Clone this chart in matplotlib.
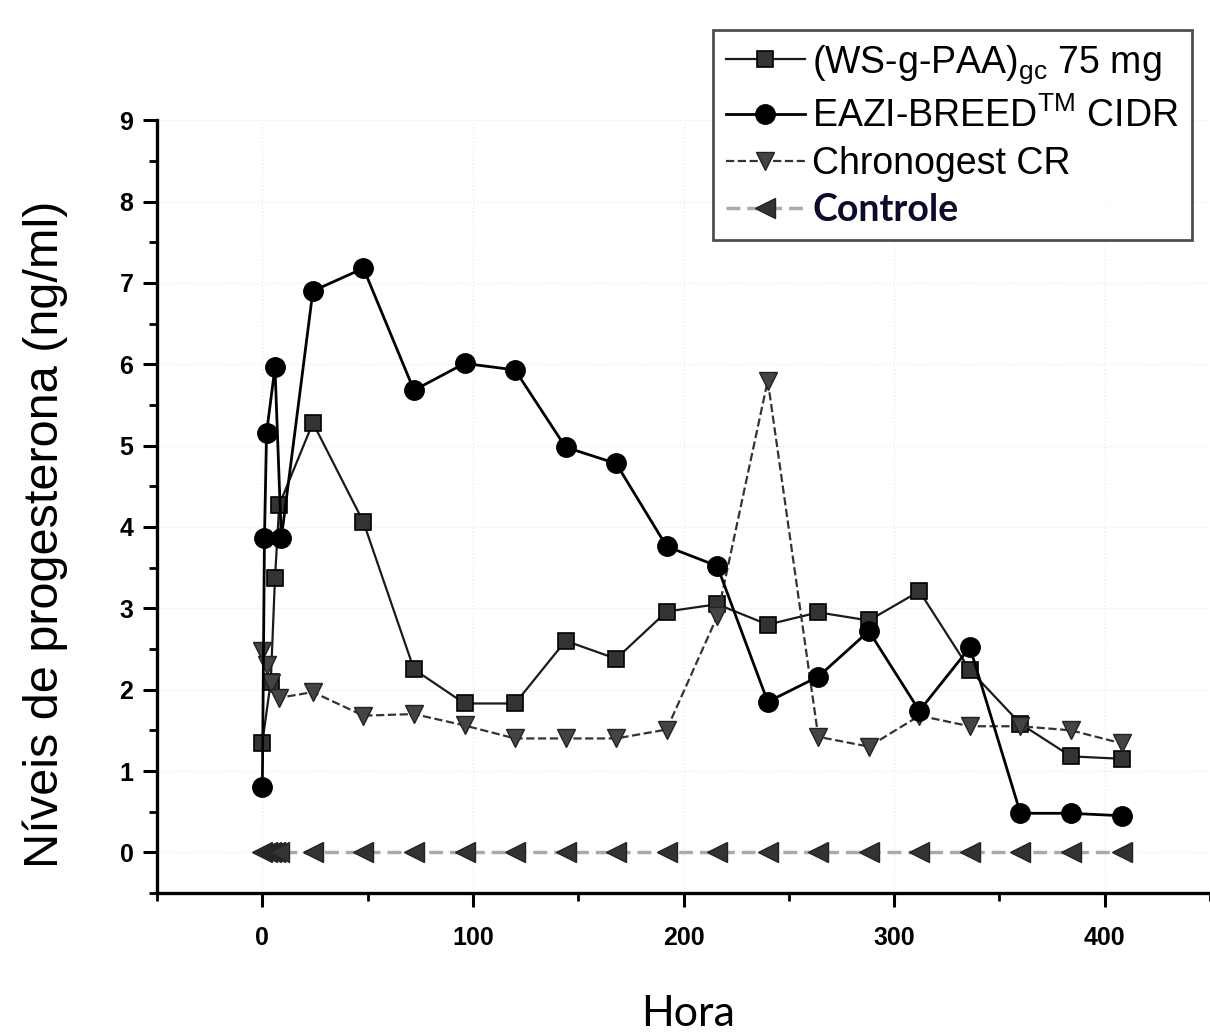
import numpy as np
import matplotlib.pyplot as plt
from matplotlib.ticker import MultipleLocator

# data
sq_x = [0, 4, 6, 8, 24, 48, 72, 96, 120, 144, 168, 192, 216, 240, 264, 288, 312, 336, 360, 384, 408]
sq_y = [1.35, 2.1, 3.37, 4.27, 5.28, 4.06, 2.25, 1.83, 1.83, 2.6, 2.38, 2.96, 3.05, 2.8, 2.95, 2.85, 3.21, 2.24, 1.58, 1.18, 1.15]

ci_x = [0, 1, 2, 6, 9, 24, 48, 72, 96, 120, 144, 168, 192, 216, 240, 264, 288, 312, 336, 360, 384, 408]
ci_y = [0.80, 3.86, 5.16, 5.96, 3.86, 6.9, 7.18, 5.68, 6.01, 5.93, 4.98, 4.78, 3.76, 3.52, 1.85, 2.16, 2.72, 1.74, 2.52, 0.48, 0.48, 0.45]

tr_x = [0, 2, 4, 8, 24, 48, 72, 96, 120, 144, 168, 192, 216, 240, 264, 288, 312, 336, 360, 384, 408]
tr_y = [2.48, 2.3, 2.08, 1.9, 1.97, 1.68, 1.7, 1.56, 1.4, 1.4, 1.4, 1.51, 2.9, 5.8, 1.42, 1.3, 1.68, 1.55, 1.55, 1.5, 1.34]

ct_x = [0, 2, 4, 6, 8, 24, 48, 72, 96, 120, 144, 168, 192, 216, 240, 264, 288, 312, 336, 360, 384, 408]
ct_y = [0] * len(ct_x)

labels = [r'(WS-g-PAA)$_\mathregular{gc}$ 75 mg',
          r'EAZI-BREED$^\mathregular{TM}$ CIDR',
          'Chronogest CR',
          'Controle']

plt.rcParams['font.family'] = ['Liberation Sans', 'DejaVu Sans']

fig = plt.figure(figsize=(12.1, 10.36), dpi=100)
ax = fig.add_axes([0.1298, 0.138, 0.8702, 0.746])

ax.plot(sq_x, sq_y, '-', color='#1a1a1a', lw=1.6, marker='s', ms=11,
        mfc='#333333', mec='black', mew=1.2, label=labels[0], zorder=3)
ax.plot(ci_x, ci_y, '-', color='black', lw=2.0, marker='o', ms=14,
        mfc='black', mec='black', label=labels[1], zorder=4)
ax.plot(tr_x, tr_y, '--', color='#333333', lw=1.6, marker='v', ms=13,
        mfc='#444444', mec='#222222', label=labels[2], zorder=3)
ax.plot(ct_x, ct_y, '--', color='#aaaaaa', lw=2.5, marker='<', ms=14,
        mfc='#333333', mec='#222222', dashes=(4, 2), label=labels[3], zorder=3)

ax.set_xlim(-50, 450)
ax.set_ylim(-0.5, 9)
ax.xaxis.set_major_locator(MultipleLocator(100))
ax.xaxis.set_minor_locator(MultipleLocator(50))
ax.yaxis.set_major_locator(MultipleLocator(1))
ax.yaxis.set_minor_locator(MultipleLocator(0.5))
ax.set_yticks(range(0, 10))

for s in ['top', 'right']:
    ax.spines[s].set_visible(False)
for s in ['left', 'bottom']:
    ax.spines[s].set_linewidth(2.4)
ax.spines['left'].set_bounds(-0.5, 9)

ax.tick_params(which='major', length=10, width=2.2, labelsize=18, pad=7)
ax.tick_params(which='minor', length=6, width=2.0)
ax.tick_params(axis='x', pad=14)
for t in ax.get_xticklabels() + ax.get_yticklabels():
    t.set_fontweight('bold')

ax.grid(True, which='major', color='#ececec', ls=':', lw=1.0)
ax.set_axisbelow(True)

leg = fig.legend(loc='upper left', bbox_to_anchor=(0.589, 0.971), fontsize=27,
                 frameon=True, fancybox=False, edgecolor='#222222',
                 handlelength=2.1, handletextpad=0.2, labelspacing=0.3,
                 borderpad=0.35, borderaxespad=0)
leg.get_frame().set_linewidth(2.0)
ctrl = leg.get_texts()[3]
ctrl.set_fontfamily('Lato')
ctrl.set_fontweight('bold')
ctrl.set_color('#0b0b2b')

fig.text(0.037, 0.484, 'Níveis de progesterona (ng/ml)', rotation=90,
         ha='center', va='center', fontsize=35)
fig.text(0.5686, 0.021, 'Hora', ha='center', va='center', fontsize=31,
         family=['Lato', 'DejaVu Sans'])

fig.savefig('out.png', dpi=100)
